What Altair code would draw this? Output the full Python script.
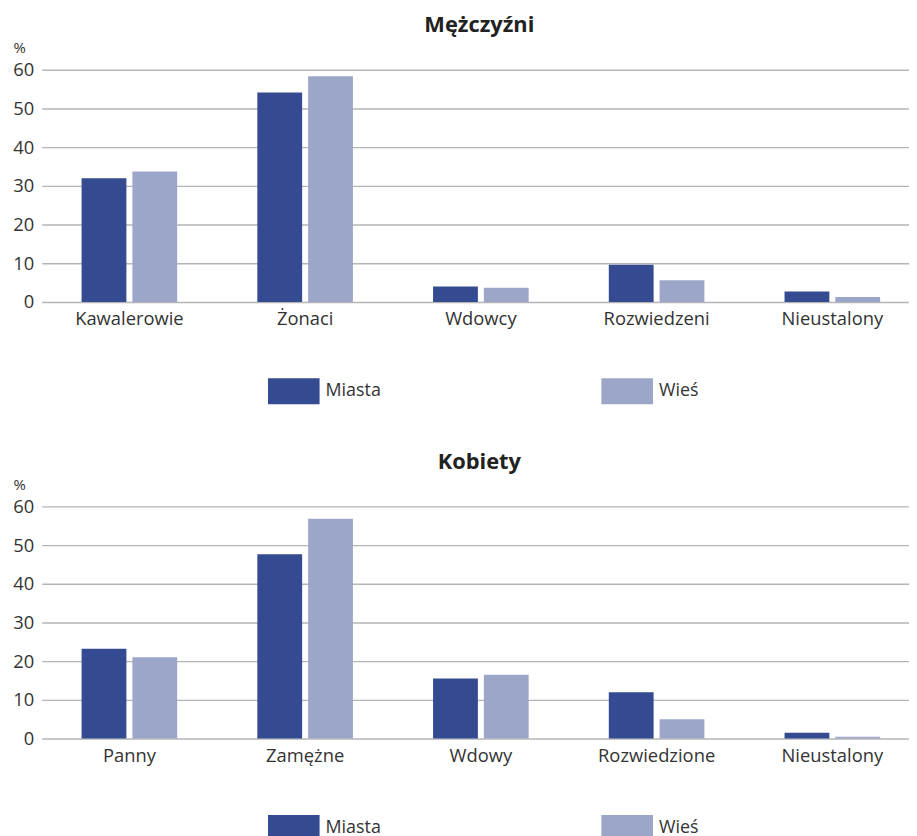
import altair as alt
import pandas as pd

areas = ["Miasta", "Wieś"]
colors = ["#344a91", "#9ca6c9"]

men_categories = ["Kawalerowie", "Żonaci", "Wdowcy", "Rozwiedzeni", "Nieustalony"]
men_miasta = [32.0, 54.1, 4.0, 9.6, 2.7]
men_wies = [33.7, 58.3, 3.7, 5.6, 1.3]

women_categories = ["Panny", "Zamężne", "Wdowy", "Rozwiedzione", "Nieustalony"]
women_miasta = [23.2, 47.6, 15.5, 12.0, 1.5]
women_wies = [21.0, 56.8, 16.5, 5.0, 0.5]

y_ticks = [0, 10, 20, 30, 40, 50, 60]
FONT = "Open Sans"
TEXT = "#333333"


def make_df(cats, miasta, wies):
    rows = []
    for c, m, w in zip(cats, miasta, wies):
        rows.append({"kat": c, "obszar": areas[0], "v": m})
        rows.append({"kat": c, "obszar": areas[1], "v": w})
    return pd.DataFrame(rows)


def panel(title, cats, miasta, wies):
    df = make_df(cats, miasta, wies)
    return (
        alt.Chart(df)
        .mark_bar()
        .encode(
            x=alt.X(
                "kat:N",
                sort=cats,
                title=None,
                scale=alt.Scale(paddingInner=0.456, paddingOuter=0.1955, align=0.58),
                axis=alt.Axis(labelAngle=0, domain=False, ticks=False, grid=False,
                              labelPadding=8, labelFontSize=18.5, labelFont=FONT,
                              labelColor=TEXT),
            ),
            xOffset=alt.XOffset("obszar:N", sort=areas,
                                scale=alt.Scale(paddingInner=0.118, paddingOuter=0)),
            y=alt.Y(
                "v:Q",
                scale=alt.Scale(domain=[0, 60], nice=False),
                axis=alt.Axis(values=y_ticks, title="%", titleAngle=0, titleAlign="left",
                              titleBaseline="alphabetic", titleX=-29, titleY=-17,
                              titleFont=FONT, titleFontSize=15, titleFontWeight="normal",
                              titleColor=TEXT, domain=False, ticks=False, labelPadding=8,
                              labelFontSize=18.5, labelFont=FONT, labelColor=TEXT,
                              gridColor="#b5b5b5", gridWidth=1.4),
            ),
            color=alt.Color(
                "obszar:N",
                sort=areas,
                scale=alt.Scale(domain=areas, range=colors),
                legend=alt.Legend(title=None, orient="none", direction="horizontal",
                                  legendX=228, legendY=298,
                                  symbolType="M-1,-0.5H1V0.5H-1Z", symbolSize=2704,
                                  symbolStrokeWidth=0, symbolOpacity=1,
                                  labelFont=FONT, labelFontSize=18, labelColor=TEXT,
                                  labelOffset=6, columnPadding=222),
            ),
        )
        .properties(
            width=874,
            height=234,
            title=alt.TitleParams(title, font=FONT, fontSize=22, fontWeight="bold",
                                  color="#222222", anchor="middle", frame="group",
                                  dx=4, offset=4),
        )
    )


top = panel("Mężczyźni", men_categories, men_miasta, men_wies)
bottom = panel("Kobiety", women_categories, women_miasta, women_wies)

chart = (
    alt.vconcat(top, bottom, spacing=47)
    .resolve_scale(x="independent", color="independent")
    .resolve_legend(color="independent")
    .properties(padding={"left": 4, "top": 3, "right": 0, "bottom": 0})
    .configure_view(stroke=None)
)

chart.save("out.html", embed_options={"renderer": "svg", "actions": False})
